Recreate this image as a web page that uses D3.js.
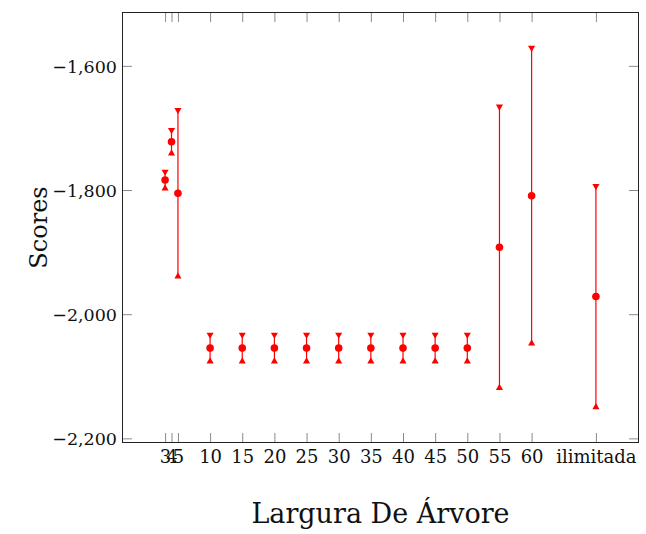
<!DOCTYPE html>
<html>
<head>
<meta charset="utf-8">
<script src="https://cdn.jsdelivr.net/npm/d3@7"></script>
<style>
  html, body { margin: 0; padding: 0; background: #fff; }
  svg { display: block; }
  text { font-family: "DejaVu Serif", serif; fill: #111; }
</style>
</head>
<body>
<svg id="chart" width="646" height="534"></svg>
<script>
// Tree width (numeric position on the x axis) and the label shown for it
const treeWidths = [3, 4, 5, 10, 15, 20, 25, 30, 35, 40, 45, 50, 55, 60, 70];
const widthLabels = ["3", "4", "5", "10", "15", "20", "25", "30", "35", "40", "45", "50", "55", "60", "ilimitada"];
// Mean score for each width and its error (half bar length)
const meanScores = [-1783.9, -1722.2, -1805.2, -2054.6, -2054.6, -2054.6, -2054.6, -2054.6, -2054.6, -2054.6, -2054.6, -2054.6, -1892.1, -1809.1, -1971.6];
const scoreErrors = [13.4, 18.8, 134, 21.5, 21.5, 21.5, 21.5, 21.5, 21.5, 21.5, 21.5, 21.5, 226.5, 238, 178];
const yTickValues = [-2200, -2000, -1800, -1600];

const data = treeWidths.map((w, i) => ({
  x: w, label: widthLabels[i], y: meanScores[i], err: scoreErrors[i]
}));

const plot = { left: 122, right: 639, top: 12, bottom: 443 };
const svg = d3.select("#chart");

// Axis limits enlarged by 10% of the data range on each side
const xExt = d3.extent(data, d => d.x);
const xPad = (xExt[1] - xExt[0]) * 0.1;
const x = d3.scaleLinear().domain([xExt[0] - xPad, xExt[1] + xPad]).range([plot.left, plot.right]);

const yLo = d3.min(data, d => d.y - d.err), yHi = d3.max(data, d => d.y + d.err);
const yPad = (yHi - yLo) * 0.1;
const y = d3.scaleLinear().domain([yLo - yPad, yHi + yPad]).range([plot.bottom, plot.top]);

const tickLen = 10;
const tickColor = "#8a8a8a";
const fmt = d3.format(",");

// Ticks on all four sides, pointing inward
const bottomAxis = d3.axisBottom(x).tickValues(treeWidths).tickFormat((d, i) => widthLabels[i])
  .tickSizeInner(-tickLen).tickSizeOuter(0).tickPadding(0);
const gb = svg.append("g").attr("transform", `translate(0,${plot.bottom})`).call(bottomAxis);
gb.select(".domain").remove();
gb.selectAll(".tick line").attr("stroke", tickColor);
gb.selectAll(".tick text").attr("font-size", 18).attr("y", 20).attr("dy", 0)
  .attr("font-family", "DejaVu Serif").attr("fill", "#111");

const topAxis = d3.axisTop(x).tickValues(treeWidths).tickFormat("").tickSizeInner(-tickLen).tickSizeOuter(0);
const gt = svg.append("g").attr("transform", `translate(0,${plot.top})`).call(topAxis);
gt.select(".domain").remove();
gt.selectAll(".tick line").attr("stroke", tickColor);

const leftAxis = d3.axisLeft(y).tickValues(yTickValues).tickFormat(fmt)
  .tickSizeInner(-tickLen).tickSizeOuter(0).tickPadding(0);
const gl = svg.append("g").attr("transform", `translate(${plot.left},0)`).call(leftAxis);
gl.select(".domain").remove();
gl.selectAll(".tick line").attr("stroke", tickColor);
gl.selectAll(".tick text").attr("font-size", 17.5).attr("x", -5).attr("dy", "0.36em")
  .attr("font-family", "DejaVu Serif").attr("fill", "#111");

const rightAxis = d3.axisRight(y).tickValues(yTickValues).tickFormat("").tickSizeInner(-tickLen).tickSizeOuter(0);
const gr = svg.append("g").attr("transform", `translate(${plot.right},0)`).call(rightAxis);
gr.select(".domain").remove();
gr.selectAll(".tick line").attr("stroke", tickColor);

// Frame
svg.append("rect")
  .attr("x", plot.left + 0.5).attr("y", plot.top + 0.5)
  .attr("width", plot.right - plot.left - 1).attr("height", plot.bottom - plot.top - 1)
  .attr("fill", "none").attr("stroke", "#222").attr("stroke-width", 1);

// Error bars with triangle end marks and circle markers
const red = "#ff0000";
const r = 4.1;
const downTri = `M0,${r} L${-0.866 * r},${-0.5 * r} L${0.866 * r},${-0.5 * r} Z`;
const upTri = `M0,${-r} L${-0.866 * r},${0.5 * r} L${0.866 * r},${0.5 * r} Z`;

const marks = svg.append("g");
const g = marks.selectAll("g.pt").data(data).join("g").attr("class", "pt");
g.append("line")
  .attr("x1", d => x(d.x)).attr("x2", d => x(d.x))
  .attr("y1", d => y(d.y + d.err)).attr("y2", d => y(d.y - d.err))
  .attr("stroke", red).attr("stroke-width", 1.2);
g.append("path").attr("d", downTri)
  .attr("transform", d => `translate(${x(d.x)},${y(d.y + d.err)})`).attr("fill", red);
g.append("path").attr("d", upTri)
  .attr("transform", d => `translate(${x(d.x)},${y(d.y - d.err)})`).attr("fill", red);
g.append("circle").attr("cx", d => x(d.x)).attr("cy", d => y(d.y)).attr("r", 3.8).attr("fill", red);

// Axis titles
svg.append("text")
  .attr("x", (plot.left + plot.right) / 2).attr("y", 523)
  .attr("text-anchor", "middle").attr("font-size", 27)
  .text("Largura De Árvore");

svg.append("text")
  .attr("transform", `translate(46.5,${(plot.top + plot.bottom) / 2}) rotate(-90)`)
  .attr("text-anchor", "middle").attr("font-size", 24)
  .text("Scores");
</script>
</body>
</html>
